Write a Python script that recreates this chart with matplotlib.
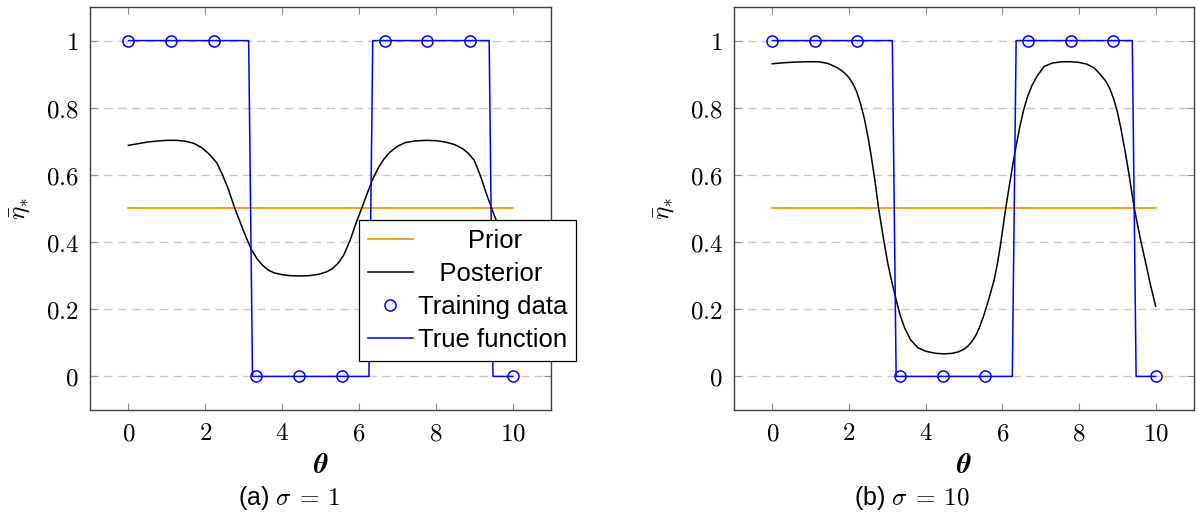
import matplotlib.pyplot as plt

plt.rcParams['mathtext.fontset'] = 'cm'
plt.rcParams['font.family'] = ['Liberation Sans', 'DejaVu Sans']

# training points and true step function (same in both panels)
theta_train = [0, 1.11, 2.22, 3.33, 4.44, 5.56, 6.67, 7.78, 8.89, 10]
eta_train = [1, 1, 1, 0, 0, 0, 1, 1, 1, 0]
theta_true = [0, 3.13, 3.23, 6.26, 6.36, 9.39, 9.49, 10]
eta_true = [1, 1, 0, 0, 1, 1, 0, 0]
theta_prior = [0, 10]
eta_prior = [0.5, 0.5]

# posterior mean, sigma = 1
theta_post1 = [0, 0.25, 0.5, 0.75, 1.0, 1.25, 1.5, 1.7, 1.9, 2.1, 2.3, 2.45, 2.6,
               2.77, 2.9, 3.05, 3.2, 3.35, 3.5, 3.65, 3.8, 4.0, 4.2, 4.45, 4.7,
               4.95, 5.15, 5.3, 5.45, 5.6, 5.77, 5.92, 6.07, 6.2, 6.35, 6.5, 6.65,
               6.8, 7.0, 7.2, 7.45, 7.75, 8.0, 8.25, 8.5, 8.7, 8.85, 9.0, 9.1, 9.2,
               9.3, 9.4, 9.5, 9.6, 9.7, 9.8, 9.9, 10]
eta_post1 = [0.688, 0.693, 0.698, 0.701, 0.703, 0.703, 0.700, 0.694, 0.682, 0.662,
             0.636, 0.600, 0.558, 0.500, 0.462, 0.418, 0.378, 0.350, 0.330, 0.316,
             0.308, 0.303, 0.300, 0.299, 0.300, 0.304, 0.311, 0.320, 0.336, 0.360,
             0.405, 0.455, 0.500, 0.540, 0.585, 0.620, 0.647, 0.667, 0.685, 0.696,
             0.701, 0.703, 0.702, 0.698, 0.690, 0.678, 0.664, 0.644, 0.616, 0.585,
             0.550, 0.518, 0.487, 0.457, 0.430, 0.405, 0.383, 0.362]

# posterior mean, sigma = 10
theta_post10 = [0, 0.3, 0.6, 0.9, 1.2, 1.45, 1.7, 1.85, 2.0, 2.1, 2.2, 2.3, 2.4,
                2.5, 2.58, 2.68, 2.77, 2.9, 3.01, 3.12, 3.23, 3.34, 3.45, 3.6, 3.8,
                4.0, 4.25, 4.49, 4.7, 4.85, 5.0, 5.1, 5.2, 5.3, 5.4, 5.5, 5.6, 5.7,
                5.79, 5.87, 5.95, 6.09, 6.2, 6.31, 6.45, 6.56, 6.66, 6.78, 6.9, 7.09,
                7.3, 7.55, 7.79, 8.0, 8.2, 8.39, 8.5, 8.6, 8.7, 8.8, 8.9, 9.0, 9.09,
                9.2, 9.3, 9.44, 9.6, 9.74, 9.87, 10]
eta_post10 = [0.931, 0.934, 0.936, 0.937, 0.937, 0.932, 0.919, 0.907, 0.890, 0.872,
              0.848, 0.812, 0.768, 0.710, 0.656, 0.580, 0.502, 0.410, 0.338, 0.280,
              0.228, 0.180, 0.145, 0.110, 0.085, 0.075, 0.069, 0.067, 0.069, 0.073,
              0.081, 0.090, 0.103, 0.120, 0.145, 0.176, 0.212, 0.252, 0.289, 0.335,
              0.390, 0.502, 0.580, 0.656, 0.740, 0.795, 0.834, 0.868, 0.893, 0.923,
              0.933, 0.937, 0.937, 0.935, 0.930, 0.919, 0.906, 0.893, 0.879, 0.858,
              0.828, 0.788, 0.740, 0.672, 0.605, 0.502, 0.410, 0.338, 0.270, 0.209]

xticks = [0, 2, 4, 6, 8, 10]
xtick_labels = ['$0$', '$2$', '$4$', '$6$', '$8$', '$10$']
yticks = [0, 0.2, 0.4, 0.6, 0.8, 1]
ytick_labels = ['$0$', '$0.2$', '$0.4$', '$0.6$', '$0.8$', '$1$']
captions = [r'(a) $\sigma\:=\:1$', r'(b) $\sigma\:=\:10$']

fig = plt.figure(figsize=(11.98, 5.29), dpi=100)
ax1 = fig.add_axes([90/1198, 1-410/529, 461/1198, 403/529])
ax2 = fig.add_axes([734/1198, 1-410/529, 460/1198, 403/529])

for ax, tp, ep in [(ax1, theta_post1, eta_post1), (ax2, theta_post10, eta_post10)]:
    ax.plot(theta_prior, eta_prior, color='#ff8c00', lw=1.2, label='Prior')
    ax.plot(tp, ep, color='black', lw=1.1, label='Posterior')
    ax.plot(theta_train, eta_train, 'o', mfc='none', mec='blue', mew=1.1, ms=8,
            label='Training data')
    ax.plot(theta_true, eta_true, color='blue', lw=1.1, label='True function')
    ax.set_xlim(-1, 11)
    ax.set_ylim(-0.1, 1.1)
    ax.set_xticks(xticks, xtick_labels, fontsize=18)
    ax.set_yticks(yticks, ytick_labels, fontsize=18)
    ax.tick_params(direction='in', length=5, color='#909090', top=True, right=True, pad=8)
    ax.yaxis.grid(True, linestyle=(0, (6, 4)), color='#c8c8c8', lw=1)
    ax.set_axisbelow(True)
    for s in ax.spines.values():
        s.set_color('#404040')
        s.set_linewidth(1)
    ax.set_xlabel(r'$\boldsymbol{\theta}$', fontsize=20, labelpad=6)
    ax.set_ylabel(r'$\bar{\eta}_{*}$', fontsize=18, labelpad=10)

fig.text(289/1198, 1-498/529, captions[0], ha='center', va='center', fontsize=18)
fig.text(912/1198, 1-498/529, captions[1], ha='center', va='center', fontsize=18)

h, l = ax1.get_legend_handles_labels()
l = ['       Prior', '   Posterior', 'Training data', 'True function']
leg = ax1.legend(h, l, loc='upper left', bbox_to_anchor=(359/1198, 1-220/529),
                 bbox_transform=fig.transFigure, borderaxespad=0, fontsize=18.5,
                 fancybox=False, edgecolor='black', framealpha=1, borderpad=0.35,
                 handlelength=1.75, handletextpad=0.2, labelspacing=0.35)
leg.get_frame().set_linewidth(0.9)

fig.savefig('out.png', dpi=100)
